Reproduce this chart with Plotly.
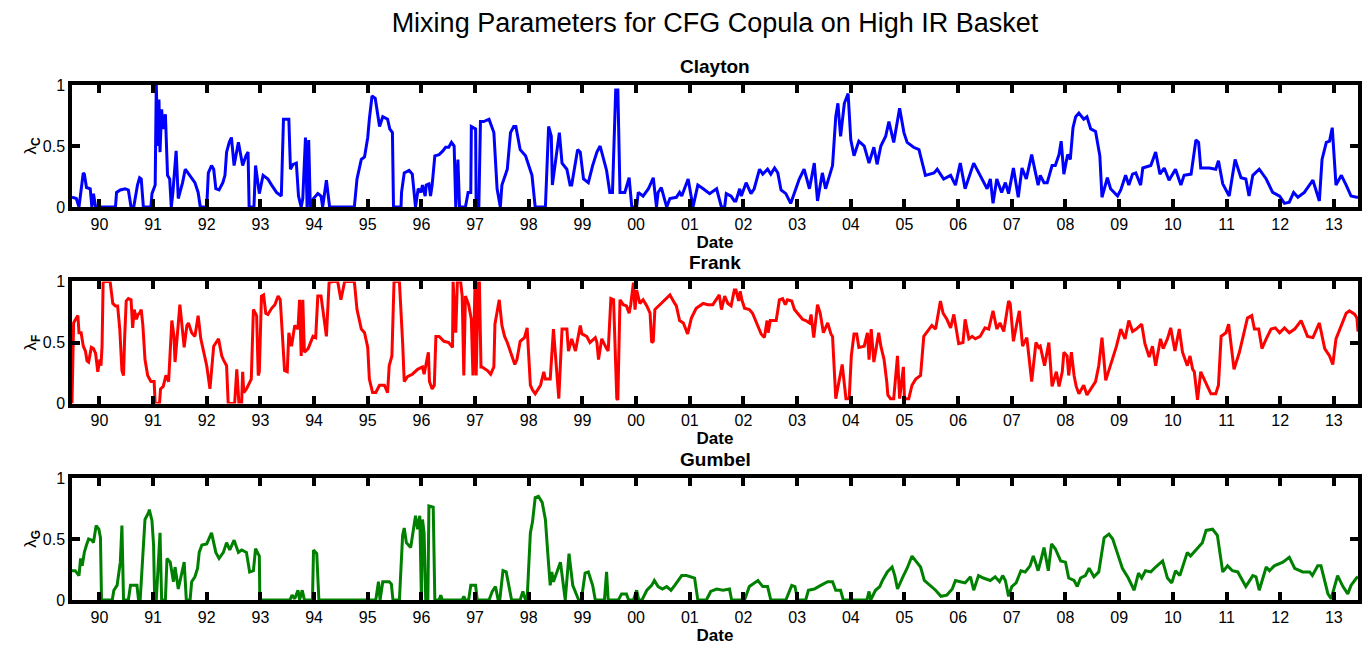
import plotly.graph_objects as go

# ---------------- data (decimal year, mixing weight) ----------------
year_ticks = list(range(1990, 2014))
year_labels = ["90", "91", "92", "93", "94", "95", "96", "97", "98", "99", "00", "01",
               "02", "03", "04", "05", "06", "07", "08", "09", "10", "11", "12", "13"]

clayton = [
    (1989.49, 0.08), (1989.57, 0.07), (1989.62, 0.0), (1989.65, 0.12), (1989.70, 0.28), (1989.72, 0.27),
    (1989.76, 0.16), (1989.83, 0.15), (1989.86, 0.0), (1989.89, 0.11), (1989.93, 0.0), (1990.30, 0.0),
    (1990.32, 0.12), (1990.39, 0.14), (1990.48, 0.15), (1990.54, 0.14), (1990.59, 0.0), (1990.64, 0.0),
    (1990.67, 0.09), (1990.71, 0.18), (1990.75, 0.24), (1990.78, 0.23), (1990.82, 0.0), (1990.96, 0.0),
    (1990.98, 0.11), (1991.04, 0.18), (1991.06, 1.0), (1991.09, 0.5), (1991.11, 0.88), (1991.13, 0.45),
    (1991.16, 0.80), (1991.19, 0.64), (1991.23, 0.76), (1991.27, 0.26), (1991.31, 0.23), (1991.34, 0.0),
    (1991.37, 0.12), (1991.43, 0.46), (1991.47, 0.07), (1991.52, 0.15), (1991.55, 0.20), (1991.60, 0.31),
    (1991.66, 0.27), (1991.72, 0.23), (1991.78, 0.20), (1991.84, 0.12), (1991.88, 0.0), (1992.00, 0.0),
    (1992.03, 0.28), (1992.09, 0.34), (1992.13, 0.31), (1992.17, 0.15), (1992.23, 0.14), (1992.30, 0.20),
    (1992.34, 0.26), (1992.37, 0.45), (1992.42, 0.53), (1992.46, 0.57), (1992.51, 0.34), (1992.59, 0.53),
    (1992.67, 0.34), (1992.73, 0.42), (1992.77, 0.45), (1992.79, 0.0), (1992.88, 0.0), (1992.91, 0.34),
    (1992.98, 0.11), (1993.05, 0.26), (1993.14, 0.23), (1993.21, 0.18), (1993.30, 0.12), (1993.39, 0.09),
    (1993.43, 0.72), (1993.53, 0.72), (1993.56, 0.31), (1993.61, 0.35), (1993.67, 0.36), (1993.71, 0.09),
    (1993.76, 0.0), (1993.79, 0.07), (1993.84, 0.57), (1993.87, 0.0), (1993.90, 0.55), (1993.93, 0.0),
    (1993.99, 0.07), (1994.07, 0.11), (1994.13, 0.09), (1994.16, 0.0), (1994.23, 0.22), (1994.29, 0.0),
    (1994.75, 0.0), (1994.80, 0.23), (1994.88, 0.39), (1994.94, 0.41), (1995.00, 0.57), (1995.03, 0.72),
    (1995.08, 0.91), (1995.14, 0.89), (1995.19, 0.74), (1995.22, 0.66), (1995.28, 0.74), (1995.37, 0.72),
    (1995.41, 0.64), (1995.46, 0.61), (1995.48, 0.0), (1995.62, 0.0), (1995.63, 0.12), (1995.68, 0.28),
    (1995.77, 0.30), (1995.83, 0.27), (1995.89, 0.0), (1995.94, 0.15), (1995.99, 0.12), (1996.02, 0.18),
    (1996.07, 0.09), (1996.09, 0.18), (1996.14, 0.19), (1996.17, 0.09), (1996.20, 0.18), (1996.25, 0.42),
    (1996.33, 0.43), (1996.40, 0.46), (1996.45, 0.49), (1996.51, 0.49), (1996.56, 0.53), (1996.61, 0.50),
    (1996.64, 0.0), (1996.68, 0.39), (1996.71, 0.0), (1996.82, 0.0), (1996.87, 0.12), (1996.92, 0.12),
    (1996.93, 0.66), (1997.01, 0.64), (1997.02, 0.0), (1997.07, 0.0), (1997.10, 0.70), (1997.16, 0.70),
    (1997.26, 0.72), (1997.35, 0.61), (1997.41, 0.15), (1997.47, 0.0), (1997.50, 0.18), (1997.60, 0.31),
    (1997.66, 0.61), (1997.72, 0.66), (1997.76, 0.66), (1997.84, 0.47), (1997.94, 0.42), (1998.06, 0.26),
    (1998.12, 0.0), (1998.31, 0.0), (1998.37, 0.66), (1998.42, 0.58), (1998.44, 0.18), (1998.57, 0.61),
    (1998.62, 0.36), (1998.71, 0.31), (1998.77, 0.18), (1998.80, 0.18), (1998.91, 0.47), (1998.96, 0.45),
    (1999.02, 0.23), (1999.11, 0.20), (1999.19, 0.34), (1999.27, 0.45), (1999.33, 0.50), (1999.45, 0.30),
    (1999.51, 0.12), (1999.56, 0.12), (1999.62, 0.96), (1999.66, 0.96), (1999.70, 0.12), (1999.79, 0.12),
    (1999.87, 0.24), (1999.92, 0.0), (2000.01, 0.0), (2000.04, 0.12), (2000.13, 0.09), (2000.23, 0.15),
    (2000.32, 0.24), (2000.38, 0.0), (2000.41, 0.12), (2000.47, 0.16), (2000.57, 0.0), (2000.63, 0.07),
    (2000.75, 0.08), (2000.81, 0.12), (2000.85, 0.09), (2000.97, 0.23), (2001.06, 0.0), (2001.15, 0.18),
    (2001.25, 0.15), (2001.37, 0.11), (2001.50, 0.15), (2001.59, 0.0), (2001.65, 0.0), (2001.68, 0.11),
    (2001.77, 0.09), (2001.83, 0.05), (2001.86, 0.05), (2001.93, 0.15), (2001.96, 0.09), (2002.05, 0.20),
    (2002.14, 0.11), (2002.20, 0.15), (2002.30, 0.31), (2002.36, 0.27), (2002.45, 0.31), (2002.51, 0.27),
    (2002.58, 0.32), (2002.64, 0.28), (2002.70, 0.14), (2002.79, 0.11), (2002.88, 0.03), (2002.95, 0.12),
    (2003.04, 0.23), (2003.13, 0.31), (2003.23, 0.15), (2003.32, 0.36), (2003.38, 0.05), (2003.47, 0.28),
    (2003.53, 0.15), (2003.66, 0.34), (2003.72, 0.74), (2003.76, 0.85), (2003.81, 0.58), (2003.88, 0.85),
    (2003.95, 0.93), (2004.00, 0.55), (2004.06, 0.42), (2004.15, 0.54), (2004.25, 0.50), (2004.34, 0.36),
    (2004.43, 0.49), (2004.49, 0.35), (2004.56, 0.50), (2004.65, 0.58), (2004.71, 0.70), (2004.80, 0.53),
    (2004.91, 0.81), (2004.99, 0.61), (2005.05, 0.53), (2005.17, 0.49), (2005.27, 0.47), (2005.39, 0.26),
    (2005.55, 0.28), (2005.61, 0.31), (2005.73, 0.23), (2005.86, 0.26), (2005.95, 0.18), (2006.04, 0.36),
    (2006.13, 0.15), (2006.29, 0.36), (2006.41, 0.26), (2006.54, 0.15), (2006.60, 0.23), (2006.65, 0.03),
    (2006.72, 0.23), (2006.81, 0.12), (2006.88, 0.20), (2006.94, 0.11), (2007.03, 0.32), (2007.12, 0.08),
    (2007.19, 0.32), (2007.27, 0.23), (2007.37, 0.43), (2007.46, 0.23), (2007.49, 0.18), (2007.53, 0.26),
    (2007.60, 0.20), (2007.66, 0.20), (2007.75, 0.34), (2007.81, 0.34), (2007.88, 0.43), (2007.92, 0.54),
    (2007.97, 0.27), (2008.04, 0.43), (2008.09, 0.39), (2008.14, 0.65), (2008.19, 0.74), (2008.25, 0.77),
    (2008.34, 0.72), (2008.40, 0.74), (2008.47, 0.64), (2008.56, 0.62), (2008.64, 0.42), (2008.68, 0.08),
    (2008.78, 0.24), (2008.84, 0.15), (2008.97, 0.09), (2009.03, 0.14), (2009.12, 0.26), (2009.18, 0.18),
    (2009.25, 0.27), (2009.31, 0.28), (2009.40, 0.18), (2009.44, 0.32), (2009.59, 0.34), (2009.68, 0.45),
    (2009.76, 0.27), (2009.84, 0.32), (2009.93, 0.22), (2010.05, 0.31), (2010.15, 0.18), (2010.21, 0.26),
    (2010.34, 0.27), (2010.43, 0.55), (2010.48, 0.53), (2010.52, 0.32), (2010.68, 0.32), (2010.80, 0.31),
    (2010.85, 0.38), (2010.93, 0.19), (2011.05, 0.09), (2011.16, 0.39), (2011.27, 0.24), (2011.36, 0.23),
    (2011.42, 0.09), (2011.49, 0.26), (2011.61, 0.31), (2011.74, 0.23), (2011.86, 0.12), (2011.99, 0.09),
    (2012.08, 0.03), (2012.17, 0.04), (2012.25, 0.12), (2012.33, 0.08), (2012.45, 0.12), (2012.61, 0.22),
    (2012.73, 0.05), (2012.78, 0.39), (2012.86, 0.53), (2012.92, 0.54), (2012.97, 0.65), (2013.04, 0.18),
    (2013.14, 0.26), (2013.23, 0.18), (2013.32, 0.09), (2013.42, 0.08), (2013.45, 0.08),
]

frank = [
    (1989.49, 0.0), (1989.52, 0.66), (1989.57, 0.70), (1989.60, 0.72), (1989.62, 0.58), (1989.66, 0.58),
    (1989.70, 0.47), (1989.74, 0.43), (1989.77, 0.35), (1989.80, 0.34), (1989.85, 0.46), (1989.89, 0.45),
    (1989.93, 0.41), (1989.97, 0.26), (1990.01, 0.36), (1990.03, 0.31), (1990.05, 0.47), (1990.07, 0.99),
    (1990.11, 1.0), (1990.20, 1.0), (1990.25, 0.82), (1990.30, 0.80), (1990.34, 0.80), (1990.38, 0.61),
    (1990.42, 0.27), (1990.45, 0.23), (1990.47, 0.53), (1990.50, 0.84), (1990.54, 0.86), (1990.59, 0.85),
    (1990.62, 0.62), (1990.65, 0.77), (1990.69, 0.69), (1990.72, 0.73), (1990.75, 0.74), (1990.78, 0.77),
    (1990.81, 0.64), (1990.85, 0.36), (1990.90, 0.23), (1990.96, 0.18), (1991.02, 0.18), (1991.04, 0.0),
    (1991.12, 0.0), (1991.14, 0.12), (1991.19, 0.14), (1991.24, 0.23), (1991.29, 0.18), (1991.31, 0.36),
    (1991.35, 0.68), (1991.39, 0.55), (1991.41, 0.34), (1991.50, 0.81), (1991.58, 0.46), (1991.63, 0.64),
    (1991.66, 0.66), (1991.72, 0.58), (1991.78, 0.55), (1991.84, 0.72), (1991.89, 0.53), (1991.92, 0.47),
    (1992.00, 0.31), (1992.06, 0.12), (1992.13, 0.47), (1992.22, 0.53), (1992.28, 0.39), (1992.31, 0.36),
    (1992.37, 0.31), (1992.40, 0.0), (1992.52, 0.0), (1992.56, 0.28), (1992.60, 0.0), (1992.65, 0.0),
    (1992.67, 0.26), (1992.69, 0.09), (1992.74, 0.12), (1992.83, 0.20), (1992.87, 0.77), (1992.93, 0.72),
    (1992.96, 0.23), (1992.98, 0.26), (1993.02, 0.88), (1993.06, 0.89), (1993.10, 0.74), (1993.14, 0.73),
    (1993.21, 0.78), (1993.27, 0.81), (1993.33, 0.88), (1993.37, 0.85), (1993.41, 0.58), (1993.45, 0.27),
    (1993.50, 0.26), (1993.53, 0.58), (1993.58, 0.47), (1993.64, 0.64), (1993.70, 0.61), (1993.73, 0.85),
    (1993.76, 0.39), (1993.79, 0.85), (1993.82, 0.42), (1993.89, 0.45), (1993.98, 0.55), (1994.03, 0.54),
    (1994.07, 0.88), (1994.13, 0.88), (1994.23, 0.55), (1994.28, 0.99), (1994.35, 1.0), (1994.44, 1.0),
    (1994.50, 0.85), (1994.57, 1.0), (1994.75, 1.0), (1994.80, 0.77), (1994.88, 0.61), (1994.94, 0.58),
    (1995.00, 0.46), (1995.03, 0.20), (1995.09, 0.09), (1995.15, 0.09), (1995.22, 0.15), (1995.31, 0.15),
    (1995.37, 0.09), (1995.40, 0.31), (1995.45, 0.39), (1995.49, 1.0), (1995.59, 1.0), (1995.62, 0.77),
    (1995.65, 0.50), (1995.68, 0.18), (1995.74, 0.22), (1995.83, 0.24), (1995.93, 0.28), (1996.02, 0.30),
    (1996.05, 0.24), (1996.13, 0.42), (1996.15, 0.18), (1996.20, 0.12), (1996.24, 0.15), (1996.27, 0.55),
    (1996.33, 0.55), (1996.42, 0.51), (1996.51, 0.50), (1996.58, 0.46), (1996.59, 1.0), (1996.64, 0.58),
    (1996.67, 1.0), (1996.73, 1.0), (1996.76, 0.88), (1996.79, 0.23), (1996.82, 0.88), (1996.88, 0.81),
    (1996.93, 0.69), (1996.96, 0.23), (1997.00, 1.0), (1997.02, 0.23), (1997.06, 1.0), (1997.08, 1.0),
    (1997.11, 0.30), (1997.13, 0.30), (1997.23, 0.27), (1997.29, 0.24), (1997.35, 0.30), (1997.37, 0.65),
    (1997.41, 0.77), (1997.45, 0.85), (1997.50, 0.64), (1997.55, 0.55), (1997.60, 0.50), (1997.69, 0.39),
    (1997.74, 0.32), (1997.78, 0.36), (1997.84, 0.51), (1997.92, 0.54), (1997.97, 0.62), (1998.03, 0.15),
    (1998.07, 0.11), (1998.12, 0.08), (1998.22, 0.15), (1998.28, 0.26), (1998.31, 0.20), (1998.40, 0.20),
    (1998.46, 0.61), (1998.56, 0.04), (1998.62, 0.61), (1998.71, 0.61), (1998.74, 0.43), (1998.80, 0.53),
    (1998.87, 0.43), (1998.96, 0.64), (1998.99, 0.57), (1999.08, 0.55), (1999.14, 0.50), (1999.24, 0.54),
    (1999.27, 0.50), (1999.30, 0.36), (1999.36, 0.53), (1999.45, 0.45), (1999.48, 0.43), (1999.53, 0.86),
    (1999.58, 0.85), (1999.64, 0.04), (1999.66, 0.03), (1999.70, 0.85), (1999.76, 0.81), (1999.82, 0.80),
    (1999.87, 0.74), (1999.90, 0.81), (1999.95, 0.99), (1999.98, 0.77), (2000.01, 0.93), (2000.07, 0.82),
    (2000.13, 0.85), (2000.20, 0.80), (2000.26, 0.74), (2000.29, 0.50), (2000.32, 0.51), (2000.35, 0.77),
    (2000.44, 0.81), (2000.57, 0.86), (2000.63, 0.89), (2000.72, 0.82), (2000.75, 0.80), (2000.81, 0.68),
    (2000.88, 0.66), (2000.96, 0.57), (2001.03, 0.70), (2001.12, 0.78), (2001.25, 0.82), (2001.34, 0.81),
    (2001.43, 0.81), (2001.55, 0.89), (2001.59, 0.77), (2001.65, 0.88), (2001.71, 0.82), (2001.77, 0.80),
    (2001.83, 0.93), (2001.86, 0.93), (2001.91, 0.84), (2001.94, 0.92), (2001.97, 0.85), (2002.02, 0.78),
    (2002.11, 0.77), (2002.17, 0.74), (2002.27, 0.64), (2002.33, 0.57), (2002.39, 0.54), (2002.44, 0.68),
    (2002.46, 0.58), (2002.50, 0.68), (2002.61, 0.68), (2002.67, 0.85), (2002.73, 0.86), (2002.78, 0.81),
    (2002.82, 0.85), (2002.90, 0.84), (2002.95, 0.77), (2003.01, 0.74), (2003.10, 0.69), (2003.16, 0.68),
    (2003.23, 0.66), (2003.26, 0.73), (2003.31, 0.54), (2003.38, 0.81), (2003.43, 0.74), (2003.49, 0.58),
    (2003.57, 0.66), (2003.63, 0.57), (2003.66, 0.55), (2003.72, 0.04), (2003.84, 0.32), (2003.91, 0.04),
    (2003.97, 0.04), (2004.01, 0.39), (2004.06, 0.57), (2004.11, 0.57), (2004.15, 0.46), (2004.25, 0.47),
    (2004.31, 0.58), (2004.34, 0.36), (2004.38, 0.61), (2004.43, 0.34), (2004.52, 0.58), (2004.56, 0.47),
    (2004.62, 0.36), (2004.67, 0.18), (2004.69, 0.07), (2004.74, 0.04), (2004.80, 0.04), (2004.87, 0.39),
    (2004.91, 0.04), (2004.98, 0.30), (2005.00, 0.04), (2005.08, 0.04), (2005.14, 0.15), (2005.21, 0.20),
    (2005.30, 0.23), (2005.36, 0.55), (2005.42, 0.59), (2005.51, 0.64), (2005.58, 0.61), (2005.67, 0.84),
    (2005.72, 0.74), (2005.79, 0.69), (2005.86, 0.62), (2005.92, 0.73), (2006.01, 0.49), (2006.09, 0.50),
    (2006.13, 0.69), (2006.20, 0.53), (2006.26, 0.55), (2006.32, 0.53), (2006.41, 0.55), (2006.50, 0.62),
    (2006.57, 0.61), (2006.65, 0.76), (2006.72, 0.61), (2006.78, 0.66), (2006.85, 0.59), (2006.94, 0.84),
    (2006.97, 0.82), (2007.03, 0.51), (2007.09, 0.65), (2007.14, 0.76), (2007.20, 0.47), (2007.28, 0.54),
    (2007.37, 0.18), (2007.45, 0.50), (2007.50, 0.46), (2007.53, 0.47), (2007.61, 0.31), (2007.69, 0.50),
    (2007.75, 0.14), (2007.83, 0.26), (2007.88, 0.14), (2007.94, 0.26), (2007.97, 0.42), (2008.03, 0.39),
    (2008.06, 0.23), (2008.11, 0.42), (2008.16, 0.23), (2008.20, 0.14), (2008.25, 0.08), (2008.34, 0.15),
    (2008.40, 0.07), (2008.47, 0.12), (2008.56, 0.18), (2008.62, 0.31), (2008.68, 0.54), (2008.75, 0.19),
    (2008.86, 0.34), (2008.95, 0.47), (2009.03, 0.61), (2009.11, 0.53), (2009.18, 0.68), (2009.25, 0.59),
    (2009.32, 0.61), (2009.42, 0.65), (2009.48, 0.49), (2009.56, 0.38), (2009.62, 0.47), (2009.68, 0.31),
    (2009.77, 0.53), (2009.82, 0.45), (2009.90, 0.53), (2009.96, 0.62), (2010.04, 0.43), (2010.12, 0.61),
    (2010.18, 0.42), (2010.27, 0.31), (2010.32, 0.39), (2010.37, 0.28), (2010.40, 0.26), (2010.46, 0.03),
    (2010.52, 0.26), (2010.62, 0.16), (2010.71, 0.08), (2010.80, 0.08), (2010.85, 0.15), (2010.90, 0.55),
    (2010.99, 0.58), (2011.04, 0.65), (2011.14, 0.28), (2011.24, 0.42), (2011.33, 0.58), (2011.39, 0.70),
    (2011.47, 0.72), (2011.52, 0.61), (2011.60, 0.61), (2011.66, 0.45), (2011.74, 0.53), (2011.83, 0.61),
    (2011.91, 0.62), (2011.99, 0.58), (2012.08, 0.62), (2012.17, 0.58), (2012.27, 0.61), (2012.39, 0.68),
    (2012.51, 0.55), (2012.61, 0.54), (2012.73, 0.66), (2012.83, 0.45), (2012.92, 0.39), (2012.98, 0.32),
    (2013.04, 0.53), (2013.14, 0.64), (2013.23, 0.74), (2013.29, 0.76), (2013.39, 0.73), (2013.43, 0.70),
    (2013.45, 0.59),
]

gumbel = [
    (1989.49, 0.24), (1989.55, 0.24), (1989.62, 0.20), (1989.65, 0.34), (1989.68, 0.28), (1989.70, 0.34),
    (1989.72, 0.39), (1989.76, 0.45), (1989.80, 0.50), (1989.86, 0.49), (1989.89, 0.47), (1989.94, 0.61),
    (1989.99, 0.58), (1990.02, 0.51), (1990.04, 0.0), (1990.24, 0.0), (1990.27, 0.08), (1990.33, 0.12),
    (1990.39, 0.31), (1990.42, 0.61), (1990.45, 0.0), (1990.54, 0.0), (1990.58, 0.12), (1990.70, 0.12),
    (1990.73, 0.0), (1990.76, 0.0), (1990.79, 0.20), (1990.82, 0.39), (1990.85, 0.66), (1990.92, 0.72),
    (1990.93, 0.74), (1990.98, 0.65), (1991.01, 0.45), (1991.03, 0.0), (1991.06, 0.0), (1991.13, 0.55),
    (1991.16, 0.0), (1991.23, 0.0), (1991.26, 0.34), (1991.32, 0.31), (1991.38, 0.15), (1991.41, 0.27),
    (1991.47, 0.09), (1991.58, 0.31), (1991.62, 0.0), (1991.69, 0.0), (1991.72, 0.15), (1991.78, 0.19),
    (1991.83, 0.26), (1991.86, 0.39), (1991.91, 0.45), (1992.00, 0.46), (1992.09, 0.55), (1992.17, 0.39),
    (1992.23, 0.34), (1992.31, 0.39), (1992.37, 0.47), (1992.43, 0.41), (1992.51, 0.49), (1992.59, 0.39),
    (1992.65, 0.41), (1992.74, 0.39), (1992.80, 0.23), (1992.87, 0.24), (1992.91, 0.42), (1992.98, 0.36),
    (1992.99, 0.0), (1993.55, 0.0), (1993.59, 0.04), (1993.64, 0.01), (1993.70, 0.08), (1993.73, 0.0),
    (1993.78, 0.08), (1993.82, 0.0), (1993.97, 0.0), (1993.99, 0.41), (1994.05, 0.38), (1994.09, 0.0),
    (1995.15, 0.0), (1995.20, 0.15), (1995.23, 0.0), (1995.28, 0.15), (1995.40, 0.15), (1995.44, 0.13),
    (1995.47, 0.0), (1995.59, 0.0), (1995.65, 0.53), (1995.68, 0.59), (1995.72, 0.47), (1995.80, 0.43),
    (1995.85, 0.58), (1995.89, 0.69), (1995.93, 0.58), (1995.97, 0.69), (1996.00, 0.0), (1996.02, 0.66),
    (1996.05, 0.55), (1996.08, 0.0), (1996.12, 0.0), (1996.14, 0.77), (1996.22, 0.76), (1996.25, 0.0),
    (1996.33, 0.0), (1996.36, 0.04), (1996.39, 0.0), (1996.76, 0.0), (1996.79, 0.03), (1996.82, 0.0),
    (1996.88, 0.0), (1996.92, 0.12), (1997.01, 0.12), (1997.04, 0.0), (1997.26, 0.0), (1997.32, 0.07),
    (1997.38, 0.11), (1997.43, 0.0), (1997.46, 0.0), (1997.52, 0.24), (1997.58, 0.23), (1997.63, 0.12),
    (1997.68, 0.0), (1997.84, 0.0), (1997.89, 0.07), (1997.94, 0.0), (1997.97, 0.01), (1998.03, 0.55),
    (1998.07, 0.64), (1998.12, 0.84), (1998.18, 0.85), (1998.25, 0.80), (1998.31, 0.66), (1998.36, 0.35),
    (1998.40, 0.12), (1998.43, 0.23), (1998.46, 0.15), (1998.59, 0.31), (1998.65, 0.12), (1998.68, 0.0),
    (1998.75, 0.38), (1998.82, 0.12), (1998.93, 0.0), (1998.98, 0.0), (1999.05, 0.22), (1999.11, 0.23),
    (1999.19, 0.12), (1999.24, 0.0), (1999.41, 0.0), (1999.45, 0.23), (1999.48, 0.0), (1999.67, 0.0),
    (1999.73, 0.05), (1999.82, 0.05), (1999.86, 0.0), (1999.95, 0.0), (2000.01, 0.08), (2000.05, 0.0),
    (2000.11, 0.0), (2000.20, 0.08), (2000.29, 0.12), (2000.34, 0.16), (2000.41, 0.11), (2000.49, 0.09),
    (2000.57, 0.11), (2000.65, 0.08), (2000.72, 0.12), (2000.85, 0.20), (2000.94, 0.20), (2001.03, 0.19),
    (2001.09, 0.18), (2001.15, 0.0), (2001.31, 0.0), (2001.39, 0.07), (2001.50, 0.09), (2001.62, 0.08),
    (2001.74, 0.09), (2001.78, 0.0), (2002.02, 0.0), (2002.11, 0.11), (2002.27, 0.16), (2002.36, 0.11),
    (2002.45, 0.11), (2002.51, 0.0), (2002.79, 0.0), (2002.90, 0.12), (2002.96, 0.11), (2003.01, 0.0),
    (2003.16, 0.0), (2003.21, 0.08), (2003.32, 0.09), (2003.44, 0.12), (2003.57, 0.15), (2003.66, 0.15),
    (2003.72, 0.08), (2003.81, 0.08), (2003.86, 0.0), (2004.30, 0.0), (2004.34, 0.07), (2004.37, 0.0),
    (2004.46, 0.08), (2004.54, 0.11), (2004.59, 0.16), (2004.68, 0.23), (2004.77, 0.27), (2004.82, 0.20),
    (2004.87, 0.09), (2004.96, 0.18), (2005.05, 0.26), (2005.14, 0.36), (2005.22, 0.31), (2005.30, 0.27),
    (2005.37, 0.16), (2005.47, 0.12), (2005.58, 0.08), (2005.68, 0.03), (2005.79, 0.04), (2005.89, 0.09),
    (2005.95, 0.16), (2006.04, 0.15), (2006.13, 0.14), (2006.23, 0.19), (2006.29, 0.08), (2006.38, 0.20),
    (2006.47, 0.18), (2006.60, 0.16), (2006.69, 0.19), (2006.77, 0.15), (2006.83, 0.20), (2006.88, 0.16),
    (2006.94, 0.03), (2007.00, 0.11), (2007.08, 0.14), (2007.17, 0.24), (2007.25, 0.23), (2007.34, 0.28),
    (2007.40, 0.36), (2007.44, 0.31), (2007.49, 0.24), (2007.55, 0.34), (2007.60, 0.43), (2007.68, 0.24),
    (2007.74, 0.46), (2007.81, 0.42), (2007.91, 0.32), (2008.00, 0.31), (2008.06, 0.18), (2008.16, 0.16),
    (2008.22, 0.11), (2008.28, 0.18), (2008.37, 0.20), (2008.44, 0.26), (2008.53, 0.19), (2008.62, 0.23),
    (2008.72, 0.51), (2008.81, 0.54), (2008.88, 0.50), (2008.97, 0.38), (2009.06, 0.26), (2009.17, 0.18),
    (2009.28, 0.08), (2009.36, 0.22), (2009.42, 0.18), (2009.49, 0.24), (2009.59, 0.23), (2009.68, 0.27),
    (2009.81, 0.32), (2009.90, 0.18), (2009.98, 0.14), (2010.05, 0.24), (2010.13, 0.20), (2010.27, 0.39),
    (2010.33, 0.36), (2010.43, 0.41), (2010.55, 0.47), (2010.62, 0.57), (2010.74, 0.58), (2010.83, 0.53),
    (2010.93, 0.23), (2011.02, 0.28), (2011.11, 0.24), (2011.21, 0.23), (2011.36, 0.11), (2011.49, 0.20),
    (2011.55, 0.19), (2011.61, 0.08), (2011.74, 0.27), (2011.80, 0.24), (2011.89, 0.28), (2012.05, 0.31),
    (2012.17, 0.35), (2012.27, 0.26), (2012.42, 0.23), (2012.55, 0.23), (2012.60, 0.20), (2012.70, 0.28),
    (2012.76, 0.28), (2012.89, 0.05), (2012.95, 0.01), (2013.07, 0.20), (2013.17, 0.11), (2013.26, 0.05),
    (2013.32, 0.12), (2013.42, 0.18), (2013.45, 0.19),
]

panels = [
    ("Clayton", "C", clayton, "#0000FF"),
    ("Frank", "F", frank, "#FF0000"),
    ("Gumbel", "G", gumbel, "#008000"),
]

# ---------------- figure ----------------
FONT = "Arial, 'Liberation Sans', Helvetica, sans-serif"
# the page body adds an 8px margin, so the figure is sized to the remaining viewport
FIG_W, FIG_H = 1364, 640
domains = [(0.763, 1.0), (0.3815, 0.6185), (0.0, 0.237)]
x_range = [1989.49, 2013.45]

fig = go.Figure()
annotations = []
for i, (name, sub, series, color) in enumerate(panels):
    n = "" if i == 0 else str(i + 1)
    xs = [p[0] for p in series]
    ys = [p[1] for p in series]
    fig.add_trace(go.Scatter(x=xs, y=ys, mode="lines", line=dict(color=color, width=3),
                             xaxis="x" + n, yaxis="y" + n, showlegend=False, name=name))
    axis_common = dict(showline=True, linewidth=3.5, linecolor="black", mirror="ticks",
                       ticks="inside", ticklen=8, tickwidth=4, tickcolor="black",
                       showgrid=False, zeroline=False,
                       tickfont=dict(family=FONT, size=16, color="black"))
    fig.update_layout(**{
        "xaxis" + n: dict(axis_common, domain=[0, 1], anchor="y" + n, range=x_range,
                          tickvals=year_ticks, ticktext=year_labels,
                          title=dict(text="<b>Date</b>", font=dict(family=FONT, size=17, color="black"),
                                     standoff=0)),
        "yaxis" + n: dict(axis_common, domain=list(domains[i]), anchor="x" + n, range=[0, 1],
                          tickvals=[0, 0.5, 1], ticktext=["0", "0.5", "1"],
                          title=dict(text="λ<sub><b>" + sub + "</b></sub>",
                                     font=dict(family=FONT, size=17, color="black"), standoff=2)),
    })
    annotations.append(dict(text="<b>" + name + "</b>", x=0.5, xref="paper",
                            y=domains[i][1], yref="paper", yanchor="bottom", yshift=6,
                            showarrow=False, font=dict(family=FONT, size=19, color="black")))

fig.update_layout(
    width=FIG_W, height=FIG_H,
    margin=dict(l=64, r=10, t=77, b=44),
    paper_bgcolor="white", plot_bgcolor="white",
    title=dict(text="Mixing Parameters for CFG Copula on High IR Basket", x=0.5, xanchor="center",
               xref="paper", y=0.977, yanchor="middle",
               font=dict(family=FONT, size=27, color="black")),
    annotations=annotations,
)

fig.write_html("out.html")
